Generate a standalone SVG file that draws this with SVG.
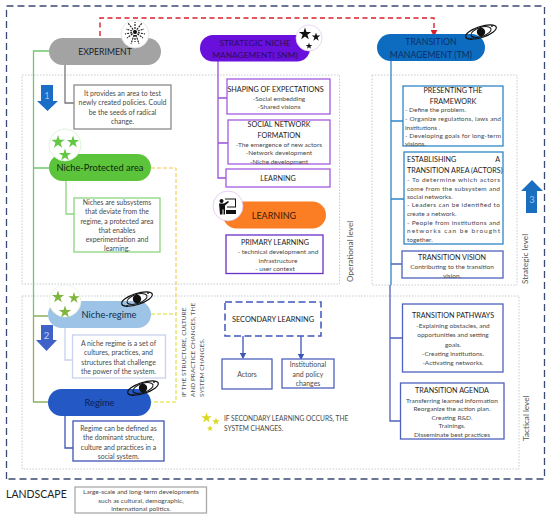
<svg xmlns="http://www.w3.org/2000/svg" width="550" height="518" viewBox="0 0 550 518">
<style>
text{font-family:Lato,"Open Sans","Liberation Sans",sans-serif;fill:#4a4a4a;font-size:6.9px;text-anchor:middle}
g.s text{font-size:6.5px}
text.t,g.s text.t{fill:#222;font-size:7.2px}
.h{fill:#1d1d2a;font-size:8.7px}
.l{text-anchor:start}
.r{font-size:8.2px;text-anchor:start;fill:#555}
.box{fill:#fff;stroke-width:1.3}
.wire{fill:none;stroke-width:1.3}
.dot{fill:none;stroke:#c4ccd2;stroke-width:1;stroke-dasharray:1.5 1.5}
.ic{fill:#fff;stroke-width:.7}
</style>
<defs>
<polygon id="star" points="0,-1 .225,-.309 .951,-.309 .363,.118 .588,.809 0,.382 -.588,.809 -.363,.118 -.951,-.309 -.225,-.309"/>
<g id="galaxy">
<ellipse cx="0" cy="0" rx="16" ry="5.5" transform="rotate(-18)" fill="none" stroke="#111" stroke-width="1.2"/>
<ellipse cx="0" cy="0" rx="10.5" ry="4.5" transform="rotate(-18)" fill="none" stroke="#111" stroke-width="1"/>
<circle cx="0" cy="0" r="4.2" fill="#111"/>
<circle cx="-10" cy="7" r=".9" fill="#111"/><circle cx="11" cy="-6" r=".9" fill="#111"/>
</g>
<marker id="ar" markerWidth="5" markerHeight="5" refX="2.5" refY="2.5" orient="auto"><path d="M0,0L5,2.5L0,5z" fill="#3f55b5"/></marker>
<marker id="arr" markerWidth="5" markerHeight="5" refX="3" refY="2.5" orient="auto"><path d="M0,0L5,2.5L0,5z" fill="#d9202c"/></marker>
</defs>
<rect width="550" height="518" fill="#fff"/>

<g id="frames">
<path d="M6.500,479V6H544.500V479H6.500" fill="none" stroke="#3b4a72" stroke-width="1.3" stroke-dasharray="7 4"/>
<rect class="dot" x="22" y="75" width="317.500" height="209"/>
<rect class="dot" x="372" y="75" width="145" height="210"/>
<rect class="dot" x="22" y="296" width="497" height="173"/>
</g>

<g id="connectors">
<path d="M100,36V18H434V34" fill="none" stroke="#d9202c" stroke-width="1.4" stroke-dasharray="5 3.500" marker-end="url(#arr)"/>
<path class="wire" stroke="#72c66e" d="M49,51H33.500V316M33.500,168H49"/>
<path class="wire" stroke="#8fb05a" d="M33.500,316H48M33.500,316V402H48"/>
<path class="wire" stroke="#777" d="M65,65V103H74"/>
<path class="wire" stroke="#8cd67f" d="M66,181V214H74"/>
<path class="wire" stroke="#c9d2ee" d="M65,328V360H72"/>
<path class="wire" stroke="#3f55b5" d="M65,416V448H73"/>
<path d="M151,168H176V300" fill="none" stroke="#f4c542" stroke-width="1" stroke-dasharray="4 2"/>
<path d="M151,314H176M176,300V402H151" fill="none" stroke="#dcdc22" stroke-width="1" stroke-dasharray="4 2"/>
<path class="wire" stroke="#9a4fd8" d="M218,61V178H226M218,98H227M218,143H228"/>
<path class="wire" stroke="#2f86c6" d="M391,60V285M391,121H403M391,199H404"/>
<path class="wire" stroke="#4f62bd" d="M391,264H402M390,285V421H400M390,338H402"/>
<path class="wire" stroke="#3f55b5" d="M243,336V356" marker-end="url(#ar)"/>
<path class="wire" stroke="#3f55b5" d="M301,336V357" marker-end="url(#ar)"/>
</g>

<g id="arrow-1"><polygon points="41,85 53,85 53,101 58,101 47.500,111 37,101 41,101" fill="#1a6ec8"/><text x="47" y="99" style="fill:#9cc4ec;font-size:9.500px">1</text></g>
<g id="arrow-2"><polygon points="41,325 53,325 53,340 57,340 46.500,351 36,340 41,340" fill="#3f62c8"/><text x="46.500" y="339" style="fill:#c4d4f2;font-size:9.500px">2</text></g>
<g id="arrow-3"><polygon points="532,180 543,191 537,191 537,213 526,213 526,191 521,191" fill="#1a6ec0"/><text x="532" y="203" style="fill:#9cc4ec;font-size:9.500px">3</text></g>

<g id="experiment">
<rect x="49" y="38" width="112" height="27" rx="13.500" fill="#a3a3a3"/>
<text class="h" x="105" y="55">EXPERIMENT</text>
<circle class="ic" cx="135" cy="34" r="14" stroke="#ddd"/>
<path d="M135,32L135,22M135,32L128,23M135,32L142,23M135,32L126,29M135,32L144,29M135,32L127,38M135,32L143,38M135,32L131,44M135,32L139,44M135,32L135,42M135,32L125,34M135,32L145,34" stroke="#111" stroke-width="1.100" stroke-dasharray="2 1" fill="none"/>
</g>
<g id="experiment-text">
<rect class="box" x="74" y="85" width="97" height="44" stroke="#8a8a8a"/>
<text x="122.500" y="96">It provides an area to test</text>
<text x="122.500" y="105">newly created policies. Could</text>
<text x="122.500" y="115">be the seeds of radical</text>
<text x="122.500" y="124">change.</text>
</g>

<g id="niche-protected">
<rect x="49" y="154" width="102" height="27" rx="13.500" fill="#5cc43a"/>
<text class="h" x="100" y="171" style="fill:#0f2a0f;font-size:9.300px">Niche-Protected area</text>
<circle class="ic" cx="65" cy="145" r="16" stroke="#cfeecb"/>
<use href="#star" transform="translate(58,142) scale(7)" fill="#62c843"/>
<use href="#star" transform="translate(73,142) scale(6.500)" fill="#62c843"/>
<use href="#star" transform="translate(65,155) scale(6.500)" fill="#62c843"/>
</g>
<g id="niche-protected-text">
<rect class="box" x="74" y="198" width="86" height="54" stroke="#8cd67f"/>
<text x="117" y="205">Niches are subsystems</text>
<text x="117" y="214">that deviate from the</text>
<text x="117" y="224">regime, a protected area</text>
<text x="117" y="233">that enables</text>
<text x="117" y="242">experimentation and</text>
<text x="117" y="251">learning.</text>
</g>

<g id="niche-regime">
<rect x="48" y="301" width="103" height="27" rx="13.500" fill="#9dc3e6"/>
<text class="h" x="109" y="318" style="fill:#10304a;font-size:9.300px">Niche-regime</text>
<circle class="ic" cx="65" cy="301" r="16" stroke="#e4f2dc"/>
<use href="#star" transform="translate(58,297) scale(6.500)" fill="#7fb53c"/>
<use href="#star" transform="translate(74,298) scale(6)" fill="#7fb53c"/>
<use href="#star" transform="translate(65,312) scale(6.500)" fill="#7fb53c"/>
<use href="#galaxy" transform="translate(137,299)"/>
</g>
<g id="niche-regime-text">
<rect class="box" x="72.500" y="335" width="93" height="43" stroke="#c9d2ee"/>
<text x="118.500" y="346">A niche regime is a set of</text>
<text x="118.500" y="355">cultures, practices, and</text>
<text x="118.500" y="365">structures that challenge</text>
<text x="118.500" y="374">the power of the system.</text>
</g>

<g id="regime">
<rect x="48" y="389" width="103" height="27" rx="13.500" fill="#2458c4"/>
<text class="h" x="99.500" y="406" style="fill:#0c1f55;font-size:9.300px">Regime</text>
<use href="#galaxy" transform="translate(143,388)"/>
</g>
<g id="regime-text">
<rect class="box" x="73" y="421" width="91" height="40" stroke="#3f55b5"/>
<text x="118.500" y="431">Regime can be defined as</text>
<text x="118.500" y="440">the dominant structure,</text>
<text x="118.500" y="450">culture and practices in a</text>
<text x="118.500" y="459">social system.</text>
</g>

<g id="snm">
<rect x="200" y="35" width="110" height="26.500" rx="13" fill="#6a10dc"/>
<text class="h" x="255" y="45.500" style="fill:#2a0d60;font-size:8.400px">STRATEGIC NICHE</text>
<text class="h" x="255" y="58" style="fill:#2a0d60;font-size:8.400px">MANAGEMENT( SNM)</text>
<circle class="ic" cx="309" cy="38" r="13" stroke="#e0c4ee"/>
<use href="#star" transform="translate(305,34) scale(6.500)" fill="#111"/>
<use href="#star" transform="translate(316,37) scale(4.500)" fill="#111"/>
<use href="#star" transform="translate(309,46) scale(3.500)" fill="#111"/>
</g>
<g id="snm-shaping" class="s">
<rect class="box" x="227" y="79" width="103" height="35" stroke="#a45be0"/>
<text class="t" x="275.500" y="91.500">SHAPING OF EXPECTATIONS</text>
<text x="279" y="100.500">-Social embedding</text>
<text x="279" y="109">-Shared visions</text>
</g>
<g id="snm-network" class="s">
<rect class="box" x="228" y="120" width="102" height="44" stroke="#a45be0"/>
<text class="t" x="279" y="127">SOCIAL NETWORK</text>
<text class="t" x="279" y="137.500">FORMATION</text>
<text x="279" y="146.500">-The emergence of new actors</text>
<text x="279" y="155">-Network development</text>
<text x="279" y="163.500">-Niche development</text>
</g>
<g id="snm-learning" class="s">
<rect class="box" x="226" y="169" width="104" height="18" stroke="#a45be0"/>
<text class="t" x="278" y="181">LEARNING</text>
</g>
<g id="learning">
<rect x="223" y="201.500" width="103" height="27" rx="13.500" fill="#fb7d24"/>
<text class="h" x="274" y="219" style="fill:#3a1a08;font-size:9px">LEARNING</text>
<circle class="ic" cx="228" cy="206" r="15" stroke="#dcb8ea"/>
<path d="M221.500,199a2,2 0 1 0 .1,0zM219,203.500h5l4,-2.500 1,1-4,3.500v9h-1.500v-5h-1v5h-2.500zM225,198.500h11v9h-9v-1h8v-7h-10z" fill="#111"/>
<path d="M226,210h10v4h-10z" fill="#111"/>
</g>
<g id="primary-learning" class="s">
<rect class="box" x="226" y="235" width="97" height="38.500" stroke="#6a2fc8"/>
<text class="t" x="275" y="245">PRIMARY LEARNING</text>
<text x="278" y="254">-   technical development and</text>
<text x="278" y="262.500">infrastructure</text>
<text x="275" y="271">- user context</text>
</g>

<g id="tm">
<rect x="377" y="34" width="108" height="27" rx="13.500" fill="#0d6cbf"/>
<text class="h" x="431" y="45" style="fill:#0b2f66">TRANSITION</text>
<text class="h" x="431" y="58" style="fill:#0b2f66">MANAGEMENT (TM)</text>
<use href="#galaxy" transform="translate(481,32)"/>
</g>
<g id="tm-framework" class="s">
<rect class="box" x="403" y="86" width="100" height="60" stroke="#2f86c6"/>
<text class="t" x="453" y="93">PRESENTING THE</text>
<text class="t" x="453" y="103.500">FRAMEWORK</text>
<text class="l" x="405" y="112">- Define the problem.</text>
<text class="l" x="405" y="121" textLength="96">- Organize regulations, laws and</text>
<text class="l" x="405" y="129.500">institutions .</text>
<text class="l" x="405" y="138" textLength="96">- Developing goals for long-term</text>
<text class="l" x="405" y="146">visions.</text>
</g>
<g id="tm-area" class="s">
<rect class="box" x="404" y="152" width="99" height="92" stroke="#2f86c6"/>
<text class="t l" x="407" y="162">ESTABLISHING<tspan x="500" text-anchor="end">A</tspan></text>
<text class="t l" x="407" y="172.500">TRANSITION AREA (ACTORS)</text>
<text class="l" x="407" y="182" textLength="93">-  To  determine  which  actors</text>
<text class="l" x="407" y="190.500" textLength="93">come from the subsystem and</text>
<text class="l" x="407" y="199">social networks.</text>
<text class="l" x="407" y="207" textLength="93">-  Leaders can be identified to</text>
<text class="l" x="407" y="216">create a network.</text>
<text class="l" x="407" y="224.500" textLength="93">-  People from institutions and</text>
<text class="l" x="407" y="233" textLength="93">networks   can   be   brought</text>
<text class="l" x="407" y="241.500">together.</text>
</g>
<g id="tm-vision" class="s">
<rect class="box" x="402" y="251" width="101" height="27" stroke="#4f62bd"/>
<text class="t" x="452" y="259.500">TRANSITION VISION</text>
<text x="452" y="269">Contributing to the transition</text>
<text x="452" y="277.500">vision.</text>
</g>
<g id="tm-pathways" class="s">
<rect class="box" x="402.500" y="304" width="100.500" height="68" stroke="#4f62bd"/>
<text class="t" x="453" y="318">TRANSITION PATHWAYS</text>
<text x="453" y="328">-Explaining obstacles, and</text>
<text x="453" y="337">opportunities and setting</text>
<text x="453" y="347">goals.</text>
<text x="453" y="356">-Creating institutions.</text>
<text x="453" y="365">-Activating networks.</text>
</g>
<g id="tm-agenda" class="s">
<rect class="box" x="400.500" y="383" width="103.500" height="56" stroke="#4f62bd"/>
<text class="t" x="452" y="393">TRANSITION AGENDA</text>
<text x="452" y="402.500">Transferring learned information</text>
<text x="452" y="411">Reorganize the action plan.</text>
<text x="452" y="419.500">Creating R&amp;D.</text>
<text x="452" y="428">Trainings.</text>
<text x="452" y="437">Disseminate best practices</text>
</g>

<g id="secondary-learning">
<rect x="225" y="302" width="96" height="34" fill="#fff" stroke="#3f55c0" stroke-width="1.500" stroke-dasharray="7 3.500"/>
<text class="t" x="273" y="322" style="font-size:7.400px">SECONDARY LEARNING</text>
</g>
<g id="actors">
<rect class="box" x="222" y="359" width="50" height="30" stroke="#4f62bd"/>
<text x="247" y="377">Actors</text>
</g>
<g id="institutional">
<rect class="box" x="282" y="359" width="52" height="29" stroke="#4f62bd"/>
<text x="308" y="367">Institutional</text>
<text x="308" y="377">and policy</text>
<text x="308" y="386">changes</text>
</g>
<g id="secondary-note">
<use href="#star" transform="translate(206.500,418) scale(5.500)" fill="#d8d820"/>
<use href="#star" transform="translate(216,421.500) scale(4)" fill="#d8d820"/>
<use href="#star" transform="translate(210,428.500) scale(3.300)" fill="#d8d820"/>
<text class="l" x="224" y="421" style="font-size:6.600px">IF SECONDARY LEARNING OCCURS, THE</text>
<text class="l" x="224" y="430.500" style="font-size:6.600px">SYSTEM CHANGES.</text>
</g>

<g id="labels">
<text class="r" transform="translate(186,397) rotate(-90)" style="font-size:6.500px">IF THE STRUCTURE, CULTURE</text>
<text class="r" transform="translate(195,397) rotate(-90)" style="font-size:6.500px">AND PRACTICE CHANGES, THE</text>
<text class="r" transform="translate(204,397) rotate(-90)" style="font-size:6.500px">SYSTEM CHANGES.</text>
<text class="r" transform="translate(353,282) rotate(-90)">Operational level</text>
<text class="r" transform="translate(528,284) rotate(-90)">Strategic level</text>
<text class="r" transform="translate(529,441) rotate(-90)">Tactical level</text>
</g>

<g id="landscape">
<text class="l" x="6" y="498" style="font-size:10.500px;fill:#222">LANDSCAPE</text>
<rect class="box" x="75" y="487" width="131.500" height="26" stroke="#aaa" stroke-width="1"/>
<text x="141" y="493.500" style="font-size:6.500px">Large-scale and long-term developments</text>
<text x="141" y="502.500" style="font-size:6.500px">such as cultural, demographic,</text>
<text x="141" y="511" style="font-size:6.500px">international politics.</text>
</g>
</svg>
